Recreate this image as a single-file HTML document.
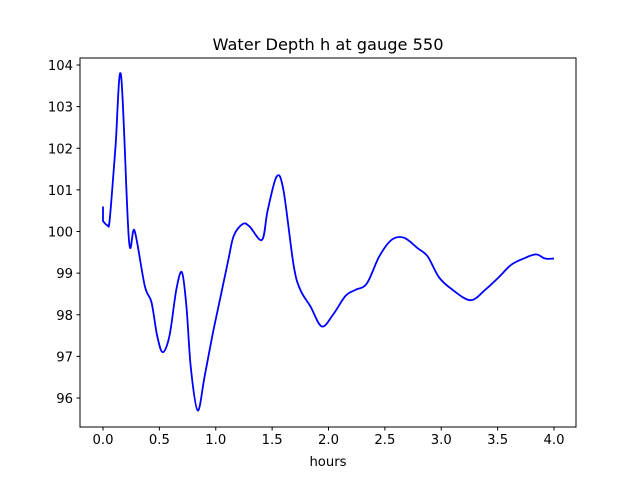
<!DOCTYPE html>
<html><head><meta charset="utf-8"><style>
body{margin:0;background:#fff;}
svg{display:block;font-family:"DejaVu Sans","Liberation Sans",sans-serif;}
</style></head><body>
<svg id="chart" width="640" height="480">
<rect width="640" height="480" fill="#fff"/>
<text x="328" y="50" text-anchor="middle" font-size="16.2">Water Depth h at gauge 550</text>
<g id="axes"></g>
<text x="328" y="466" text-anchor="middle" font-size="13.2">hours</text>
</svg>
<script>
const xTicks=[0,0.5,1,1.5,2,2.5,3,3.5,4];
const xTickLabels=["0.0","0.5","1.0","1.5","2.0","2.5","3.0","3.5","4.0"];
const yTicks=[96,97,98,99,100,101,102,103,104];
const yTickLabels=["96","97","98","99","100","101","102","103","104"];
const hours=[0,0,0.04,0.06,0.11,0.16,0.23,0.28,0.37,0.43,0.48,0.53,0.59,0.65,0.70,0.74,0.78,0.84,0.90,0.97,1.04,1.11,1.16,1.24,1.30,1.41,1.46,1.54,1.60,1.69,1.75,1.84,1.94,2.04,2.15,2.24,2.34,2.45,2.56,2.67,2.79,2.88,2.98,3.10,3.26,3.39,3.51,3.62,3.73,3.84,3.92,4.0];
const depth=[100.6,100.25,100.15,100.3,102,103.75,99.8,100.02,98.7,98.3,97.5,97.1,97.5,98.6,99.02,98.2,96.7,95.7,96.5,97.5,98.4,99.3,99.9,100.18,100.12,99.8,100.5,101.32,101,99.2,98.6,98.2,97.72,98,98.45,98.6,98.75,99.4,99.8,99.85,99.6,99.4,98.9,98.6,98.35,98.6,98.9,99.2,99.35,99.45,99.35,99.35];
const L=80,R=576,T=58,B=427;
const xs=h=>103+h*(554-103)/4;
const ys=v=>398-(v-96)*(398-65)/8;
const ns="http://www.w3.org/2000/svg";
const g=document.getElementById('axes');
function mk(t,a){const e=document.createElementNS(ns,t);for(const k in a)e.setAttribute(k,a[k]);g.appendChild(e);return e;}
let pts=hours.map((h,i)=>[xs(h),ys(depth[i])]);
let d="M"+pts[0][0]+","+pts[0][1]+" L"+pts[1][0]+","+pts[1][1];
for(let i=1;i<pts.length-1;i++){
 const p0=pts[Math.max(i-1,1)],p1=pts[i],p2=pts[i+1],p3=pts[Math.min(i+2,pts.length-1)];
 const c1=[p1[0]+(p2[0]-p0[0])/6,p1[1]+(p2[1]-p0[1])/6];
 const c2=[p2[0]-(p3[0]-p1[0])/6,p2[1]-(p3[1]-p1[1])/6];
 d+=` C${c1[0]},${c1[1]} ${c2[0]},${c2[1]} ${p2[0]},${p2[1]}`;
}
const line=mk('path',{d:d,fill:'none',stroke:'#0000ff','stroke-width':1.8,'stroke-linejoin':'round'});


const frame=mk('rect',{x:L,y:T,width:R-L,height:B-T,fill:'none',stroke:'#000','stroke-width':1});


xTicks.forEach((v,i)=>{
 const x=xs(v);
 const t=mk('line',{x1:x,x2:x,y1:B,y2:B+3.5,stroke:'#000'});
 
 
 const l=mk('text',{x:x,y:B+17,'text-anchor':'middle','font-size':13.2});
 l.textContent=xTickLabels[i];
 
 
});
yTicks.forEach((v,i)=>{
 const y=ys(v);
 const t=mk('line',{x1:L-3.5,x2:L,y1:y,y2:y,stroke:'#000'});
 
 
 const l=mk('text',{x:L-7,y:y+5,'text-anchor':'end','font-size':13.2});
 l.textContent=yTickLabels[i];
 
 
});
</script>
</body></html>
